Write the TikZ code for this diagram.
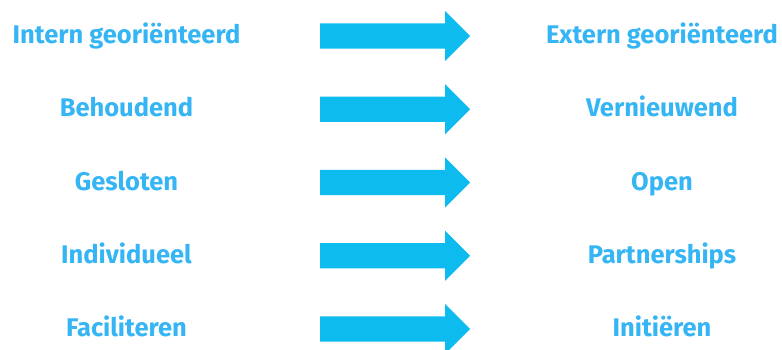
\documentclass[tikz,border=0pt]{standalone}
\usepackage{fontspec}
\setmainfont{Fira Sans}
\usetikzlibrary{shapes.arrows}
\definecolor{txtblue}{HTML}{35B5F4}
\definecolor{arrblue}{HTML}{0DBBEE}
\tikzset{
  lbl/.style={font=\fontsize{25.5}{25.5}\selectfont\bfseries, text=txtblue, anchor=base, inner sep=0pt},
  bigarrow/.style={shape=single arrow, fill=arrblue, draw=none, minimum height=150pt, minimum width=50pt, single arrow head extend=12.5pt, single arrow tip angle=90, single arrow head indent=0pt, inner xsep=0pt, inner ysep=12.5pt, anchor=tail}
}
\begin{document}
\begin{tikzpicture}[x=1pt,y=-1pt]
\useasboundingbox (0,0) rectangle (782,350);
\foreach \i/\l/\r/\y in {1/Intern georiënteerd/Extern georiënteerd/36,
                       2/Behoudend/Vernieuwend/109.25,
                       3/Gesloten/Open/182.5,
                       4/Individueel/Partnerships/255.75,
                       5/Faciliteren/Initiëren/329}{
  \node[bigarrow] (a\i) at (320,\y) {};
  \node[lbl] (l\i) at (126.5,\y+7.5) {\l};
  \node[lbl] (r\i) at (662,\y+7.5) {\r};
}
\end{tikzpicture}
\end{document}
